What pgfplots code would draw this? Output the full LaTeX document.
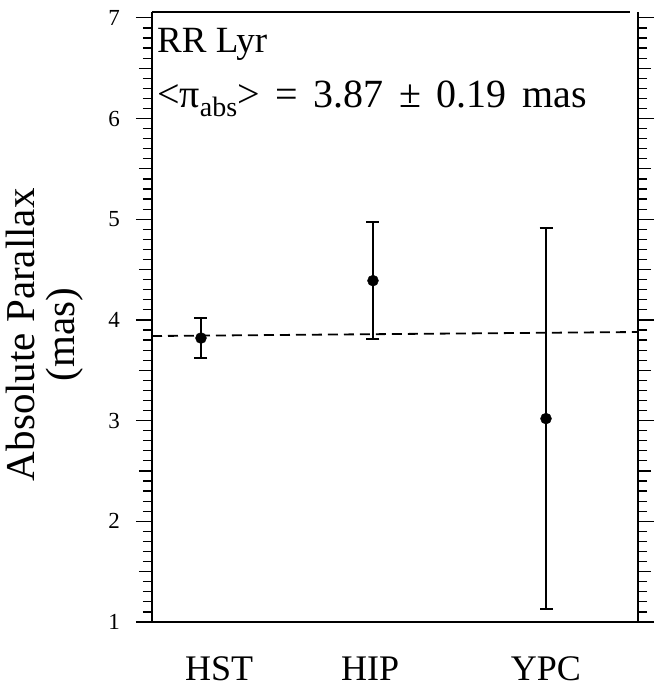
\documentclass[border=0pt]{standalone}
\usepackage{fontspec}
\setmainfont{Liberation Serif}
\usepackage{pgfplots}
\pgfplotsset{compat=1.18}

\pgfplotstableread{
x      y     e
1.008  3.82  0.20
4.547  4.39  0.58
8.107  3.02  1.89
}\parallax

\begin{document}
\begin{tikzpicture}
\begin{axis}[
    scale only axis,
    width=486pt, height=610pt,
    xmin=0, xmax=10, ymin=1, ymax=7.058,
    clip=false,
    axis x line*=bottom,
    axis y line*=box,
    axis line style={line width=1.6pt},
    xtick={1.379,4.49,8.107},
    xticklabels={HST,HIP,YPC},
    x tick style={draw=none},
    xticklabel style={font=\fontsize{36}{36}\selectfont, anchor=base, inner sep=0pt, yshift=-42pt},
    ytick={1,2,...,7},
    minor y tick num=9,
    extra y ticks={1.5,2.5,3.5,4.5,5.5,6.5},
    extra y tick labels={},
    extra y tick style={major tick length=13pt},
    tick align=outside,
    major tick length=16pt,
    minor tick length=9pt,
    y tick style={line width=1.2pt, black},
    yticklabel style={font=\fontsize{23}{23}\selectfont, anchor=east, inner sep=0pt, xshift=-16pt},
    /pgf/number format/assume math mode=true,
    ylabel={Absolute Parallax\\(mas)},
    y label style={at={(axis description cs:-0.221,0.471)}, anchor=center,
      align=center, font=\fontsize{41}{40}\selectfont},
]
\addplot[black, dash pattern=on 10pt off 6pt, line width=1.8pt] coordinates {(0,3.84) (10,3.88)};
\addplot[black, only marks, mark=*, mark size=5.5pt,
    error bars/.cd, y dir=both, y explicit,
    error bar style={line width=2pt},
    error mark options={rotate=90, mark size=6.5pt, line width=2pt}]
  table[x=x, y=y, y error=e] {\parallax};
\draw[line width=1.6pt] (rel axis cs:0,1) -- (rel axis cs:0.984,1);
\node[anchor=base west, inner sep=0pt, font=\fontsize{37}{37}\selectfont]
  at (rel axis cs:0.0103,0.934) {RR Lyr};
\node[anchor=base west, inner sep=0pt, font=\fontsize{40}{40}\selectfont]
  at (rel axis cs:0.0103,0.844)
  {\spaceskip=0.39em <π\raisebox{-0.5ex}{\fontsize{28}{28}\selectfont abs}> = 3.87 ± 0.19 mas};
\end{axis}
\path ([shift={(-152pt,-66pt)}]current axis.south west)
      ([shift={(16pt,12pt)}]current axis.north east);
\end{tikzpicture}
\end{document}
